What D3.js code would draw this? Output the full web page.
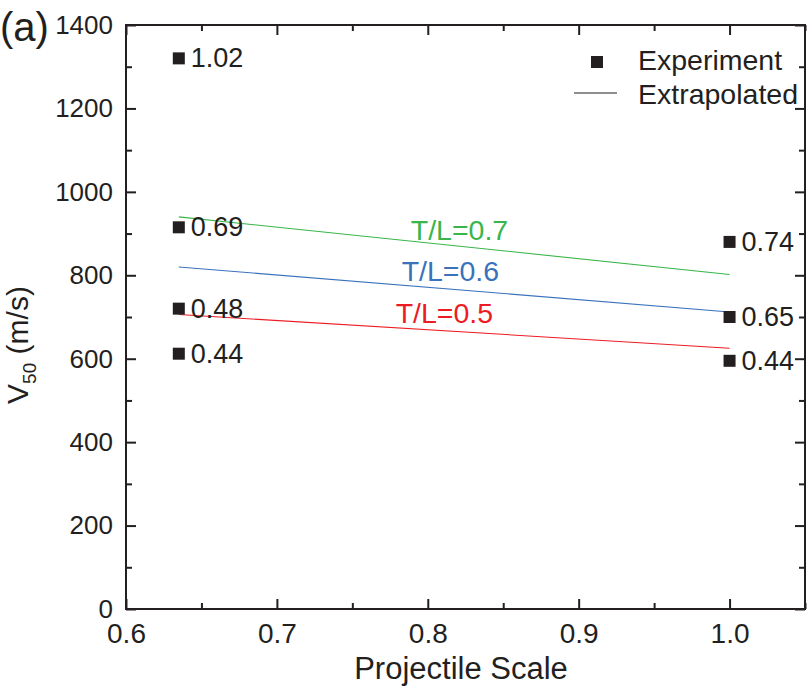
<!DOCTYPE html>
<html>
<head>
<meta charset="utf-8">
<script src="https://cdn.jsdelivr.net/npm/d3@7"></script>
<style>
  html, body { margin: 0; padding: 0; background: #fff; }
  svg { display: block; font-family: "Liberation Sans", Arial, Helvetica, sans-serif; }
</style>
</head>
<body>
<svg id="chart" width="807" height="687"></svg>
<script>
// ---- data ----
const expX = [0.635, 0.635, 0.635, 0.635, 1.0, 1.0, 1.0];
const expV = [1320, 915, 720, 612, 880, 700, 595];
const expLabels = ["1.02", "0.69", "0.48", "0.44", "0.74", "0.65", "0.44"];

const lineX = [0.635, 1.0];
const lineNames = ["T/L=0.7", "T/L=0.6", "T/L=0.5"];
const lineColors = ["#39b54a", "#3a72bc", "#ed1c24"];
const line07 = [940, 802];
const line06 = [820, 712];
const line05 = [706, 625];
const lineValues = [line07, line06, line05];
const lineLabelPos = [[0.821, 884], [0.815, 786], [0.811, 686]];

const xMajor = [0.6, 0.7, 0.8, 0.9, 1.0];
const xMinor = [0.65, 0.75, 0.85, 0.95, 1.05];
const yMajor = [0, 200, 400, 600, 800, 1000, 1200, 1400];
const yMinor = [100, 300, 500, 700, 900, 1100, 1300];

const ink = "#231f20";
const svg = d3.select("#chart");
const L = 126, R = 805, T = 25, B = 609;
const x = d3.scaleLinear().domain([0.6, 1.05]).range([L, R]);
const y = d3.scaleLinear().domain([0, 1400]).range([B, T]);

function styleAxis(g, fs) {
  g.selectAll(".domain").remove();
  g.selectAll("line").attr("stroke", ink).attr("stroke-width", 2);
  g.selectAll("text").attr("fill", ink).style("font-size", fs + "px")
    .style("font-family", '"Liberation Sans", Arial, sans-serif');
}

// bottom
svg.append("g").attr("transform", `translate(0,${B})`)
  .call(d3.axisBottom(x).tickValues(xMajor).tickSize(-10).tickPadding(14).tickFormat(d3.format(".1f")))
  .call(g => styleAxis(g, 28));
svg.append("g").attr("transform", `translate(0,${B})`)
  .call(d3.axisBottom(x).tickValues(xMinor).tickSize(-6).tickFormat(""))
  .call(g => styleAxis(g, 28));
// top
svg.append("g").attr("transform", `translate(0,${T})`)
  .call(d3.axisTop(x).tickValues(xMajor).tickSize(-10).tickFormat(""))
  .call(g => styleAxis(g, 26));
svg.append("g").attr("transform", `translate(0,${T})`)
  .call(d3.axisTop(x).tickValues(xMinor).tickSize(-6).tickFormat(""))
  .call(g => styleAxis(g, 26));
// left
svg.append("g").attr("transform", `translate(${L},0)`)
  .call(d3.axisLeft(y).tickValues(yMajor).tickSize(-10).tickPadding(13).tickFormat(d3.format("d")))
  .call(g => styleAxis(g, 26));
svg.append("g").attr("transform", `translate(${L},0)`)
  .call(d3.axisLeft(y).tickValues(yMinor).tickSize(-6).tickFormat(""))
  .call(g => styleAxis(g, 26));
// right
svg.append("g").attr("transform", `translate(${R},0)`)
  .call(d3.axisRight(y).tickValues(yMajor).tickSize(-10).tickFormat(""))
  .call(g => styleAxis(g, 26));
svg.append("g").attr("transform", `translate(${R},0)`)
  .call(d3.axisRight(y).tickValues(yMinor).tickSize(-6).tickFormat(""))
  .call(g => styleAxis(g, 26));

// frame
svg.append("rect").attr("x", L).attr("y", T).attr("width", R - L).attr("height", B - T)
  .attr("fill", "none").attr("stroke", ink).attr("stroke-width", 2);

// extrapolated lines
const lineGen = d3.line().x((d, i) => x(lineX[i])).y(d => y(d));
lineValues.forEach((vals, k) => {
  svg.append("path").attr("d", lineGen(vals)).attr("fill", "none")
    .attr("stroke", lineColors[k]).attr("stroke-width", 1.1);
  svg.append("text").attr("x", x(lineLabelPos[k][0])).attr("y", y(lineLabelPos[k][1]))
    .attr("text-anchor", "middle").attr("fill", lineColors[k])
    .style("font-size", "28.5px").text(lineNames[k]);
});

// experiment squares + labels
const sq = 12;
expX.forEach((xv, i) => {
  svg.append("rect").attr("x", x(xv) - sq / 2).attr("y", y(expV[i]) - sq / 2)
    .attr("width", sq).attr("height", sq).attr("fill", ink);
  svg.append("text").attr("x", x(xv) + 12).attr("y", y(expV[i]) + 9)
    .attr("fill", ink).style("font-size", "27px").text(expLabels[i]);
});

// legend
svg.append("rect").attr("x", 591).attr("y", 56).attr("width", sq).attr("height", sq).attr("fill", ink);
svg.append("text").attr("x", 638).attr("y", 70).attr("fill", ink).style("font-size", "28.5px").text("Experiment");
svg.append("line").attr("x1", 574).attr("x2", 617).attr("y1", 93).attr("y2", 93)
  .attr("stroke", ink).attr("stroke-width", 1.1);
svg.append("text").attr("x", 638).attr("y", 104).attr("fill", ink).style("font-size", "28.5px").text("Extrapolated");

// axis titles
svg.append("text").attr("x", 461).attr("y", 679).attr("text-anchor", "middle")
  .attr("fill", ink).style("font-size", "31px").text("Projectile Scale");

const yt = svg.append("text").attr("transform", "translate(28,345) rotate(-90)")
  .attr("text-anchor", "middle").attr("fill", ink).style("font-size", "30px");
yt.append("tspan").text("V");
yt.append("tspan").attr("dy", 8).style("font-size", "19px").text("50");
yt.append("tspan").attr("dy", -8).text(" (m/s)");

// panel label
svg.append("text").attr("x", 0).attr("y", 41).attr("fill", ink).style("font-size", "40px").text("(a)");
</script>
</body>
</html>
